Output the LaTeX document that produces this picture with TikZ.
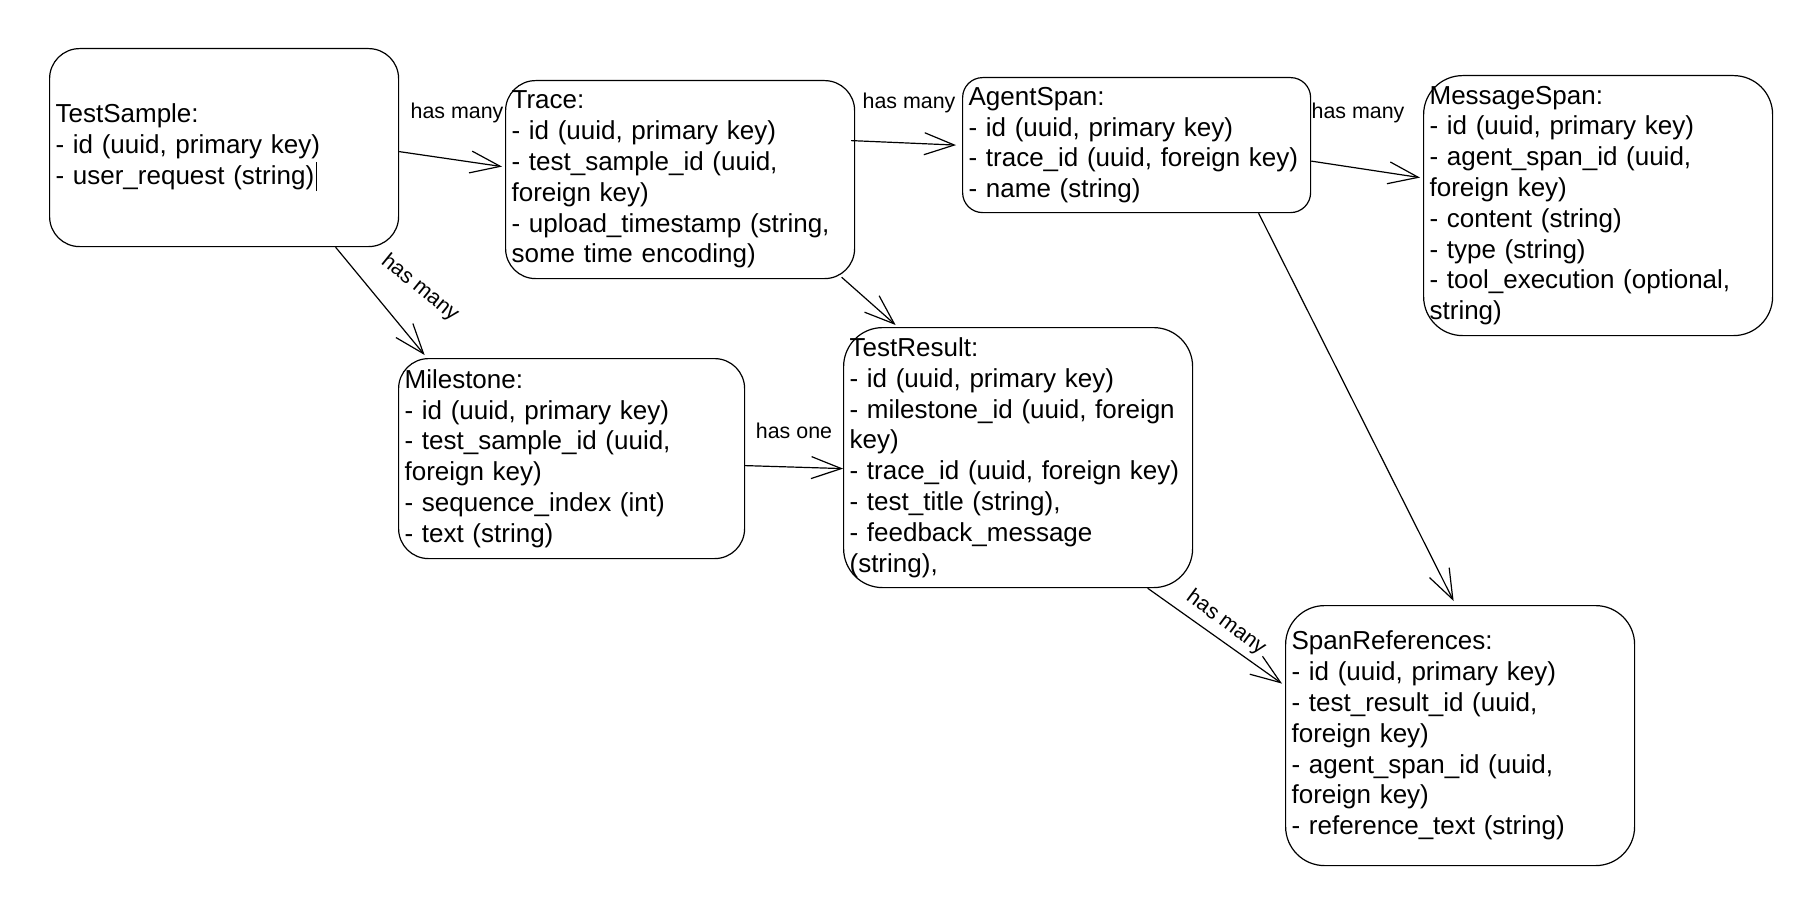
\documentclass[tikz,border=0pt]{standalone}
\usepackage{fontspec}
\setmainfont{Liberation Sans}
\usetikzlibrary{arrows.meta,calc}

\begin{document}
\begin{tikzpicture}[x=0.5pt,y=-0.5pt,line width=0.6pt,
  entity/.style={draw,rounded corners=15pt,anchor=north west,align=left,
    inner xsep=3pt,inner ysep=0pt,text width=168.5pt,minimum height=99pt,
    font=\fontsize{13}{15.4}\selectfont},
  tall/.style={minimum height=130pt,rounded corners=19.5pt},
  rel/.style={-{Straight Barb[length=15pt,width=11pt]}},
  lbl/.style={inner sep=0pt,font=\fontsize{10.7}{12}\selectfont}]

\useasboundingbox (0,0) rectangle (1818,920);

\node[entity] (sample) at (49,48) {TestSample:\\- id (uuid, primary key)\\- user\_request (string)\kern1pt\rule[-0.25em]{0.5pt}{1.1em}};
\node[entity] (trace) at (505,80) {Trace:\\- id (uuid, primary key)\\- test\_sample\_id (uuid,\\foreign key)\\- upload\_timestamp (string,\\some time encoding)};
\node[entity,minimum height=67.5pt,rounded corners=10pt,text width=168pt] (agent) at (962,77) {AgentSpan:\\- id (uuid, primary key)\\\mbox{- trace\_id (uuid, foreign key)}\\- name (string)};
\node[entity,tall] (message) at (1423,75) {MessageSpan:\\- id (uuid, primary key)\\- agent\_span\_id (uuid,\\foreign key)\\- content (string)\\- type (string)\\- tool\_execution (optional,\\string)};
\node[entity,text width=167pt,minimum height=100pt] (milestone) at (398,358) {Milestone:\\- id (uuid, primary key)\\- test\_sample\_id (uuid,\\foreign key)\\- sequence\_index (int)\\- text (string)};
\node[entity,tall] (result) at (843,327) {TestResult:\\- id (uuid, primary key)\\\mbox{- milestone\_id (uuid, foreign}\\key)\\\mbox{- trace\_id (uuid, foreign key)}\\- test\_title (string),\\- feedback\_message\\(string),};
\node[entity,tall] (spanref) at (1285,605) {SpanReferences:\\- id (uuid, primary key)\\- test\_result\_id (uuid,\\foreign key)\\- agent\_span\_id (uuid,\\foreign key)\\- reference\_text (string)};

\draw[rel] ($(sample.east)+(0,4)$) -- ($(trace.west)+(-3,-13)$);
\draw[rel] ($(trace.east)+(-4,-39)$) -- ($(agent.west)+(-6,0)$);
\draw[rel] ($(agent.east)+(0,16)$) -- ($(message.west)+(-3,-28)$);
\draw[rel] ($(sample.south)+(111.5,0)$) -- ($(milestone.north)+(-147,-3)$);
\draw[rel] ($(trace.south)+(161.5,-2)$) -- ($(result.north)+(-122.5,-2)$);
\draw[rel] ($(milestone.east)+(0,7)$) -- ($(result.west)+(0,11)$);
\draw[rel] ($(agent.south)+(122,0)$) -- ($(spanref.north)+(-6.5,-4)$);
\draw[rel] ($(result.south)+(129.5,0)$) -- ($(spanref.west)+(-3,-52)$);

\node[lbl] (hasTrace) at (457,113) {has many};
\node[lbl] (hasAgent) at (909,103) {has many};
\node[lbl] (hasMessage) at (1358,113) {has many};
\node[lbl,rotate=-39] (hasMilestone) at (420,288) {has many};
\node[lbl] (hasResult) at (794,431) {has one};
\node[lbl,rotate=-36.5] (hasRef) at (1226,623) {has many};

\end{tikzpicture}
\end{document}
